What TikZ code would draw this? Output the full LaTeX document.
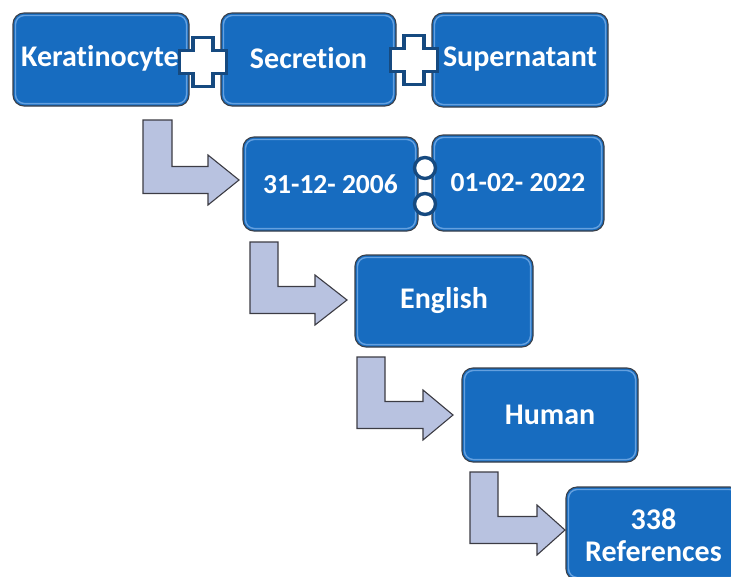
\documentclass[tikz,border=0pt]{standalone}
\usepackage{fontspec}
\setmainfont{Carlito}[Ligatures=NoCommon]
\definecolor{boxblue}{HTML}{176CC0}
\definecolor{boxedge}{HTML}{3A3F48}
\definecolor{rimblue}{HTML}{7FB2EA}
\definecolor{arrowfill}{HTML}{B8C2E0}
\definecolor{arrowedge}{HTML}{3C3C44}
\definecolor{plusedge}{HTML}{164A80}
\tikzset{
  box/.style={draw=boxedge, fill=boxblue, line width=1.1pt, rounded corners=11pt, inner sep=0pt},
  rim/.style={draw=rimblue, line width=1.4pt, rounded corners=9pt, opacity=0.75},
  boxtext/.style={text=white, font=\bfseries\fontsize{30}{32}\selectfont, align=center, inner sep=0pt},
  datetext/.style={boxtext, font=\bfseries\fontsize{27.5}{32}\selectfont},
  bentarrow/.style={draw=arrowedge, fill=arrowfill, line width=1.1pt, line join=miter},
  plusshape/.style={draw=plusedge, fill=white, line width=3.6pt, line join=miter},
  linkring/.style={draw=plusedge, fill=white, line width=3.4pt}
}
% \bentarr{stemleft}{stemright}{top}{headbase}{tipx}{tipy}
\newcommand{\bentarr}[6]{%
  \path[bentarrow] (#1,#3) -- (#2,#3) -- (#2,#6-13.5) -- (#4,#6-13.5) -- (#4,#6-25)
    -- (#5,#6) -- (#4,#6+25) -- (#4,#6+13.5) -- (#1,#6+13.5) -- cycle;}
% \plussym{cx}{cy}
\newcommand{\plussym}[2]{%
  \path[plusshape] (#1-10,#2-24.5) -- (#1+10,#2-24.5) -- (#1+10,#2-11.5) -- (#1+23.5,#2-11.5)
    -- (#1+23.5,#2+11.5) -- (#1+10,#2+11.5) -- (#1+10,#2+24.5) -- (#1-10,#2+24.5)
    -- (#1-10,#2+11.5) -- (#1-23.5,#2+11.5) -- (#1-23.5,#2-11.5) -- (#1-10,#2-11.5) -- cycle;}
\begin{document}
\begin{tikzpicture}[x=1pt,y=-1pt]
\useasboundingbox (0,0) rectangle (731,576);
\clip (0,0) rectangle (731,576);
% bent arrows
\bentarr{143}{172}{120}{208}{239}{180}
\bentarr{250}{278}{242}{315}{347}{300}
\bentarr{357}{385}{357}{423}{453}{415}
\bentarr{470}{498}{472}{537}{565}{530}
% boxes
\node[box, minimum width=176pt, minimum height=93pt] (b1) at (101,59.5) {};
\node[box, minimum width=175pt, minimum height=93pt] (b2) at (308.5,59.5) {};
\node[box, minimum width=176pt, minimum height=94pt] (b3) at (520,60) {};
\node[box, minimum width=175pt, minimum height=94pt] (b4) at (330.5,184) {};
\node[box, minimum width=172pt, minimum height=96pt] (b5) at (518,183) {};
\node[box, minimum width=178pt, minimum height=92pt] (b6) at (444,301) {};
\node[box, minimum width=176pt, minimum height=94pt] (b7) at (550,415) {};
\node[box, minimum width=175pt, minimum height=93pt] (b8) at (653.5,533.5) {};
% inner rims (bevel highlight)
\foreach \n in {b1,b2,b3,b4,b5,b6,b7,b8}{
  \path[rim] ([xshift=3pt,yshift=-3pt]\n.north west) rectangle ([xshift=-3pt,yshift=3pt]\n.south east);
}
% labels
\node[boxtext] (t1) at ([xshift=-1pt,yshift=1pt]b1.center) {Keratinocyte};
\node[boxtext] (t2) at ([yshift=1pt]b2.center) {Secretion};
\node[boxtext] (t3) at ([yshift=1pt]b3.center) {Supernatant};
\node[datetext] (t4) at (b4.center) {31-12- 2006};
\node[datetext] (t5) at (b5.center) {01-02- 2022};
\node[boxtext] (t6) at (b6.center) {English};
\node[boxtext] (t7) at (b7.center) {Human};
\node[boxtext] (t8) at ([yshift=-2pt]b8.center) {338\\References};
% plus signs between first-row boxes
\plussym{203}{62}
\plussym{414}{60}
% linking rings between the dates
\node[linkring, circle, minimum size=21pt, inner sep=0pt] (r1) at (425,168) {};
\node[linkring, circle, minimum size=21pt, inner sep=0pt] (r2) at (425,204) {};
\end{tikzpicture}
\end{document}
